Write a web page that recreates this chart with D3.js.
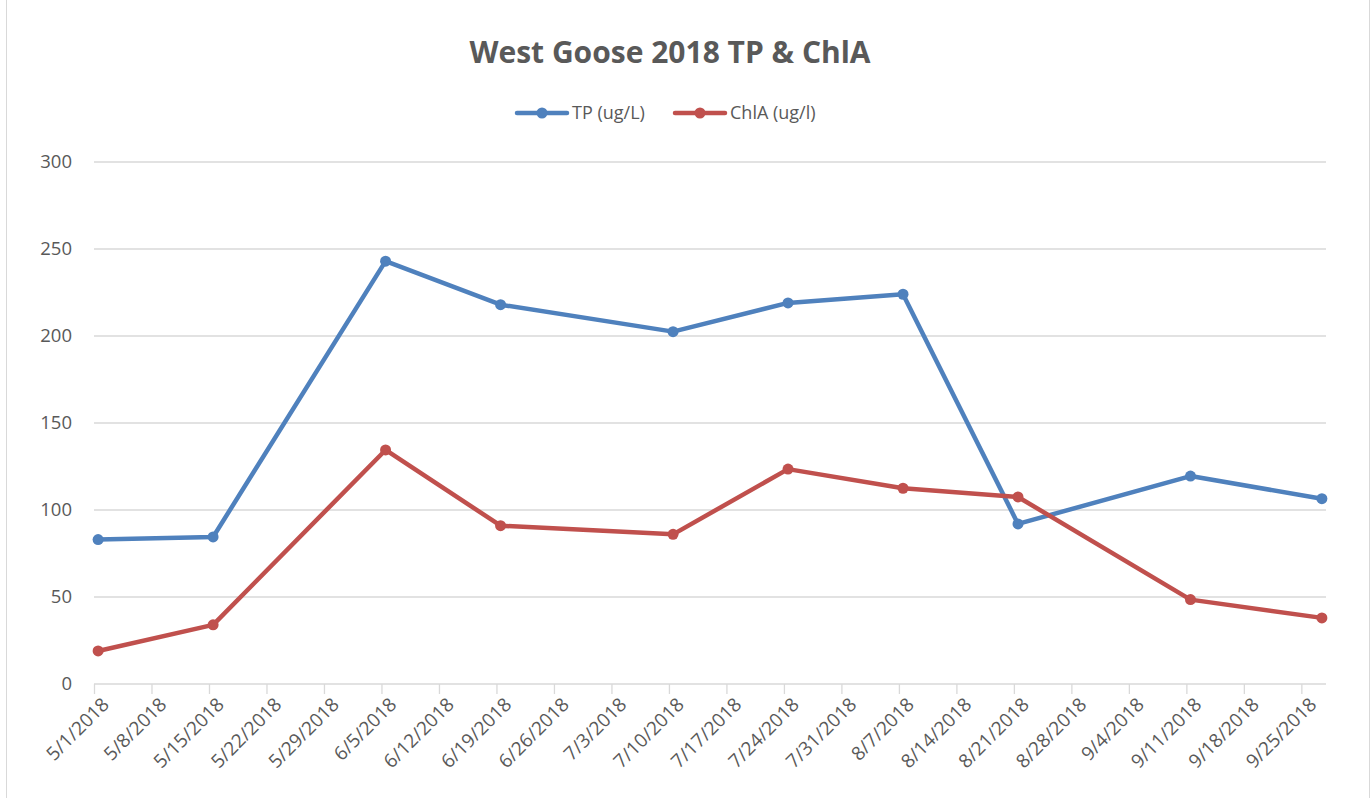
<!DOCTYPE html>
<html>
<head>
<meta charset="utf-8">
<script src="https://cdn.jsdelivr.net/npm/d3@7"></script>
<style>
  body { margin: 0; background: #fff; }
  svg text { font-family: "Open Sans", "Noto Sans", sans-serif; fill: #595959; }
</style>
</head>
<body>
<div id="chart"></div>
<script>
// chart data
const sampleDates = ["2018-05-01", "2018-05-15", "2018-06-05", "2018-06-19", "2018-07-10",
                     "2018-07-24", "2018-08-07", "2018-08-21", "2018-09-11", "2018-09-27"];
const tpValues = [83, 84.5, 243, 218, 202.5, 219, 224, 92, 119.5, 106.5];
const chlaValues = [19, 34, 134.5, 91, 86, 123.5, 112.5, 107.5, 48.5, 38];
const yTicks = [0, 50, 100, 150, 200, 250, 300];
const seriesNames = ["TP (ug/L)", "ChlA (ug/l)"];
const titleText = "West Goose 2018 TP & ChlA";

const width = 1372;
const height = 798;
const margin = { top: 162, left: 94, bottom: 114, right: 46 };

const colors = { tp: "#4f81bd", chla: "#c0504d" };
const gridColor = "#d9d9d9";

const parse = d3.timeParse("%Y-%m-%d");

var svg = d3.select("#chart").append("svg")
  .attr("width", width)
  .attr("height", height);

// outer chart border
svg.append("rect")
  .attr("x", 6.5).attr("y", -1)
  .attr("width", 1363).attr("height", 800)
  .attr("fill", "none")
  .attr("stroke", gridColor);

// x is a day-based date axis, each point sits in the middle of its day
var xScale = d3.scaleTime()
  .domain([parse("2018-05-01"), parse("2018-09-28")])
  .range([margin.left, width - margin.right]);

var yScale = d3.scaleLinear()
  .domain([0, 300])
  .range([height - margin.bottom, margin.top]);

function midDay(s) {
  return d3.timeHour.offset(parse(s), 12);
}

// horizontal gridlines
svg.append("g")
  .selectAll("line")
  .data(yTicks.filter(d => d > 0))
  .enter()
  .append("line")
  .attr("x1", margin.left)
  .attr("x2", width - margin.right)
  .attr("y1", d => yScale(d))
  .attr("y2", d => yScale(d))
  .attr("stroke", gridColor)
  .attr("stroke-width", 1.3);

// y labels
svg.append("g")
  .selectAll("text")
  .data(yTicks)
  .enter()
  .append("text")
  .attr("x", 72)
  .attr("y", d => yScale(d))
  .attr("dy", "0.35em")
  .attr("text-anchor", "end")
  .style("font-size", "18.5px")
  .text(d => d);

// x axis with weekly ticks
var weekTicks = d3.timeDay.range(parse("2018-05-01"), parse("2018-09-26"), 7);

var xAxis = d3.axisBottom(xScale)
  .tickValues(weekTicks)
  .tickSize(10)
  .tickFormat(d3.timeFormat("%-m/%-d/%Y"));

var xAxisG = svg.append("g")
  .attr("transform", "translate(0," + yScale(0) + ")")
  .call(xAxis);

xAxisG.select(".domain")
  .attr("stroke", gridColor)
  .attr("stroke-width", 1.3)
  .attr("d", "M" + margin.left + ",0H" + (width - margin.right));
xAxisG.selectAll(".tick line").attr("stroke", gridColor).attr("stroke-width", 1.3);
xAxisG.selectAll(".tick text")
  .style("font-size", "19px")
  .style("font-family", "'Open Sans', 'Noto Sans', sans-serif")
  .attr("fill", "#595959")
  .attr("text-anchor", "end")
  .attr("transform", "translate(11,17) rotate(-45)")
  .attr("dy", "0.35em")
  .attr("y", 0)
  .attr("x", 0);

// series lines and markers
var series = [
  { name: seriesNames[0], values: tpValues, color: colors.tp },
  { name: seriesNames[1], values: chlaValues, color: colors.chla }
];

var line = d3.line()
  .x(d => xScale(midDay(d.date)))
  .y(d => yScale(d.value));

series.forEach(function(s) {
  var pts = sampleDates.map((d, i) => ({ date: d, value: s.values[i] }));
  svg.append("path")
    .datum(pts)
    .attr("d", line)
    .attr("fill", "none")
    .attr("stroke", s.color)
    .attr("stroke-width", 4.5)
    .attr("stroke-linejoin", "round")
    .attr("stroke-linecap", "round");
  svg.append("g")
    .selectAll("circle")
    .data(pts)
    .enter()
    .append("circle")
    .attr("cx", d => xScale(midDay(d.date)))
    .attr("cy", d => yScale(d.value))
    .attr("r", 5.5)
    .attr("fill", s.color);
});

// title
svg.append("text")
  .attr("x", 670)
  .attr("y", 63)
  .attr("text-anchor", "middle")
  .style("font-size", "30px")
  .style("font-weight", "bold")
  .text(titleText);

// legend
var legendX = [517, 675];
series.forEach(function(s, i) {
  var g = svg.append("g").attr("transform", "translate(" + legendX[i] + ",113)");
  g.append("line")
    .attr("x1", 0).attr("x2", 50)
    .attr("stroke", s.color)
    .attr("stroke-width", 4.5)
    .attr("stroke-linecap", "round");
  g.append("circle").attr("cx", 25).attr("r", 5.5).attr("fill", s.color);
  g.append("text")
    .attr("x", 55)
    .attr("dy", "0.35em")
    .style("font-size", "18px")
    .text(s.name);
});
</script>
</body>
</html>
